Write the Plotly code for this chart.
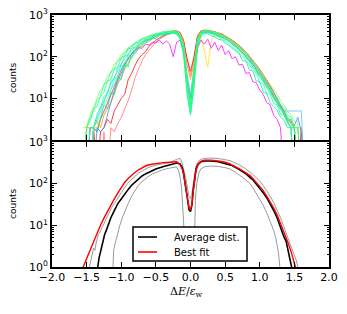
import plotly.graph_objects as go

# ---------------- top panel: individual runs (log10 of counts) -------------
x_grid = [-1.55, -1.50, -1.45, -1.40, -1.35,
          -1.30, -1.25, -1.20, -1.15, -1.10,
          -1.05, -1.00, -0.95, -0.90, -0.85,
          -0.80, -0.75, -0.70, -0.65, -0.60,
          -0.55, -0.50, -0.45, -0.40, -0.35,
          -0.30, -0.25, -0.20, -0.15, -0.10,
          -0.05, 0.00, 0.05, 0.10, 0.15,
          0.20, 0.25, 0.30, 0.35, 0.40,
          0.45, 0.50, 0.55, 0.60, 0.65,
          0.70, 0.75, 0.80, 0.85, 0.90,
          0.95, 1.00, 1.05, 1.10, 1.15,
          1.20, 1.25, 1.30, 1.35, 1.40,
          1.45, 1.50, 1.55, 1.60, 1.65]

run_red = [-1, -1, 0.3, 0.3, -1,
           0.2, 0.3, 0.5, 0.4, 0.7,
           0.85, 1.0, 1.1, 1.45, 1.6,
           1.8, 1.95, 2.05, 2.12, 2.25,
           2.32, 2.4, 2.45, 2.5, 2.55,
           2.58, 2.62, 2.62, 2.58, 2.4,
           1.95, 1.65, 2.0, 2.5, 2.62,
           2.64, 2.63, 2.62, 2.6, 2.57,
           2.55, 2.5, 2.46, 2.4, 2.34,
           2.28, 2.2, 2.12, 2.02, 1.92,
           1.82, 1.7, 1.57, 1.45, 1.3,
           1.15, 1.0, 0.85, 0.7, 0.5,
           0.4, 0.3, -1, 0.3, -1]

run_pink = [-1, -1, -1, 0.3, -1,
            -1, 0.2, -1, 0.3, 0.2,
            0.4, 0.55, 0.75, 0.95, 1.2,
            1.5, 1.7, 1.9, 2.05, 2.15,
            2.25, 2.35, 2.42, 2.48, 2.52,
            2.55, 2.58, 2.57, 2.52, 2.35,
            1.9, 1.55, 1.95, 2.45, 2.58,
            2.6, 2.6, 2.58, 2.56, 2.53,
            2.5, 2.46, 2.42, 2.36, 2.3,
            2.24, 2.16, 2.08, 1.98, 1.88,
            1.78, 1.66, 1.53, 1.4, 1.25,
            1.1, 0.95, 0.8, 0.62, 0.45,
            0.3, -1, -1, -1, -1]

run_orange = [-1, 0.3, 0.3, 0.3, 0.45,
              0.3, 0.6, 0.75, 0.9, 1.1,
              1.35, 1.5, 1.7, 1.85, 2.0,
              2.1, 2.2, 2.28, 2.35, 2.4,
              2.45, 2.5, 2.53, 2.56, 2.58,
              2.6, 2.61, 2.6, 2.55, 2.35,
              1.8, 1.45, 1.85, 2.45, 2.6,
              2.62, 2.62, 2.6, 2.58, 2.55,
              2.52, 2.48, 2.43, 2.37, 2.31,
              2.24, 2.16, 2.07, 1.97, 1.87,
              1.76, 1.64, 1.5, 1.37, 1.22,
              1.08, 0.92, 0.78, 0.62, 0.45,
              0.5, 0.3, 0.3, -1, -1]

run_yellow = [-1, 0.3, 0.3, 0.3, 0.3,
              0.55, 0.6, 0.85, 1.05, 1.2,
              1.45, 1.6, 1.78, 1.92, 2.05,
              2.15, 2.22, 2.3, 2.36, 2.42,
              2.46, 2.5, 2.52, 2.55, 2.56,
              2.58, 2.58, 2.57, 2.5, 2.2,
              1.4, 0.9, 1.6, 2.35, 2.5,
              2.1, 1.75, 2.4, 2.54, 2.52,
              2.48, 2.45, 2.4, 2.35, 2.28,
              2.22, 2.14, 2.06, 1.95, 1.86,
              1.74, 1.62, 1.5, 1.36, 1.24,
              1.1, 0.95, 0.82, 0.65, 0.5,
              0.45, 0.3, 0.3, 0.3, -1]

run_magenta = [-1, -1, -1, 0.3, 0.2,
               0.5, 0.7, 0.9, 1.1, 1.3,
               1.5, 1.68, 1.85, 1.95, 2.08,
               2.15, 2.22, 2.2, 2.3, 2.28,
               2.35, 2.33, 2.4, 2.3, 2.38,
               2.3, 2.0, 2.35, 2.4, 2.15,
               1.5, 1.0, 1.55, 2.2, 2.4,
               2.3, 2.42, 2.2, 2.35, 2.15,
               2.28, 2.05, 2.15, 1.95, 2.0,
               1.8, 1.82, 1.6, 1.62, 1.4,
               1.38, 1.2, 1.1, 0.9, 0.85,
               0.6, 0.5, 0.3, -1, -1,
               -1, -1, -1, -1, -1]

run_blue = [-1, -1, -1, -1, 0.3,
            0.2, 0.3, 0.6, 0.9, 1.2,
            1.4, 1.62, 1.8, 1.95, 2.08,
            2.18, 2.25, 2.33, 2.38, 2.42,
            2.46, 2.5, 2.52, 2.54, 2.56,
            2.57, 2.58, 2.56, 2.48, 2.2,
            1.5, 1.0, 1.6, 2.35, 2.55,
            2.58, 2.58, 2.56, 2.54, 2.5,
            2.47, 2.43, 2.38, 2.32, 2.25,
            2.18, 2.1, 2.02, 1.92, 1.82,
            1.7, 1.58, 1.45, 1.32, 1.2,
            1.05, 0.92, 0.8, 0.68, 0.55,
            0.45, 0.35, 0.55, 0.2, -1]

run_cyan = [-1, -1, 0.3, 0.3, 0.5,
            0.7, 0.95, 1.15, 1.35, 1.5,
            1.68, 1.82, 1.96, 2.06, 2.15,
            2.22, 2.3, 2.36, 2.4, 2.45,
            2.48, 2.52, 2.54, 2.56, 2.57,
            2.58, 2.59, 2.57, 2.5, 2.25,
            1.6, 1.1, 1.7, 2.4, 2.57,
            2.6, 2.6, 2.58, 2.55, 2.52,
            2.48, 2.44, 2.4, 2.34, 2.27,
            2.2, 2.12, 2.04, 1.95, 1.84,
            1.73, 1.6, 1.48, 1.35, 1.22,
            1.08, 0.95, 0.82, 0.7, 0.7,
            0.7, 0.7, 0.7, 0.7, -1]

run_green_a = [-1, 0.3, 0.55, 0.7, 0.95,
               1.05, 1.35, 1.4, 1.65, 1.7,
               1.92, 1.95, 2.12, 2.15, 2.28,
               2.3, 2.4, 2.4, 2.48, 2.47,
               2.54, 2.53, 2.58, 2.57, 2.61,
               2.6, 2.63, 2.6, 2.52, 2.25,
               1.3, 0.65, 1.4, 2.3, 2.6,
               2.62, 2.64, 2.6, 2.6, 2.55,
               2.53, 2.47, 2.45, 2.37, 2.33,
               2.23, 2.18, 2.07, 2.0, 1.87,
               1.78, 1.62, 1.52, 1.36, 1.28,
               1.1, 1.02, 0.85, 0.78, 0.6,
               0.55, 0.3, 0.3, -1, -1]

run_green_b = [-1, -1, -1, 0.3, 0.2,
               0.5, 0.85, 0.75, 1.15, 1.1,
               1.5, 1.45, 1.85, 1.75, 2.08,
               2.08, 2.2, 2.25, 2.33, 2.36,
               2.43, 2.44, 2.5, 2.5, 2.55,
               2.54, 2.57, 2.53, 2.42, 2.05,
               1.1, 0.62, 1.25, 2.2, 2.5,
               2.56, 2.55, 2.5, 2.48, 2.42,
               2.4, 2.33, 2.28, 2.2, 2.14,
               2.08, 1.9, 1.9, 1.68, 1.66,
               1.42, 1.4, 1.15, 1.12, 0.9,
               0.82, 0.72, 0.55, 0.48, 0.3,
               0.3, -1, -1, -1, -1]

run_green_c = [-1, 0.3, 0.45, 0.75, 0.8,
               1.05, 1.15, 1.42, 1.45, 1.7,
               1.75, 1.98, 2.02, 2.2, 2.2,
               2.33, 2.33, 2.44, 2.42, 2.5,
               2.5, 2.56, 2.54, 2.6, 2.57,
               2.61, 2.58, 2.6, 2.48, 2.15,
               1.35, 0.8, 1.55, 2.38, 2.58,
               2.6, 2.61, 2.57, 2.57, 2.5,
               2.5, 2.42, 2.4, 2.3, 2.27,
               2.15, 2.1, 1.97, 1.9, 1.75,
               1.66, 1.5, 1.42, 1.25, 1.15,
               1.0, 0.9, 0.72, 0.66, 0.45,
               0.3, 0.3, -1, -1, -1]

run_green_d = [-1, -1, -1, 0.3, 0.45,
               0.6, 0.85, 0.98, 1.22, 1.35,
               1.55, 1.7, 1.88, 1.98, 2.1,
               2.18, 2.25, 2.33, 2.36, 2.44,
               2.45, 2.52, 2.51, 2.57, 2.55,
               2.59, 2.57, 2.57, 2.48, 2.2,
               1.45, 0.85, 1.6, 2.4, 2.57,
               2.61, 2.59, 2.59, 2.54, 2.53,
               2.46, 2.45, 2.37, 2.34, 2.24,
               2.2, 2.07, 2.02, 1.88, 1.8,
               1.64, 1.57, 1.4, 1.32, 1.12,
               1.05, 0.85, 0.8, 0.6, 0.55,
               0.4, 0.2, -1, -1, -1]

run_green_e = [-1, -1, -1, 0.3, 0.6,
               0.78, 1.05, 1.12, 1.42, 1.48,
               1.75, 1.83, 2.02, 2.06, 2.2,
               2.23, 2.34, 2.35, 2.44, 2.44,
               2.51, 2.5, 2.56, 2.55, 2.59,
               2.58, 2.59, 2.57, 2.5, 2.18,
               1.4, 0.7, 1.45, 2.33, 2.56,
               2.59, 2.6, 2.56, 2.55, 2.5,
               2.47, 2.42, 2.38, 2.31, 2.25,
               2.16, 2.09, 1.98, 1.9, 1.77,
               1.67, 1.53, 1.44, 1.27, 1.2,
               1.0, 0.93, 0.75, 0.68, 0.48,
               0.5, 0.3, -1, -1, -1]

run_green_f = [0.3, 0.3, 0.6, 0.82, 1.0,
               1.2, 1.3, 1.55, 1.6, 1.82,
               1.88, 2.05, 2.1, 2.22, 2.25,
               2.35, 2.35, 2.44, 2.45, 2.5,
               2.52, 2.55, 2.56, 2.6, 2.6,
               2.62, 2.61, 2.6, 2.54, 2.3,
               1.5, 0.9, 1.7, 2.42, 2.6,
               2.63, 2.62, 2.62, 2.58, 2.57,
               2.52, 2.5, 2.44, 2.4, 2.32,
               2.27, 2.18, 2.12, 2.0, 1.92,
               1.8, 1.68, 1.58, 1.45, 1.35,
               1.2, 1.1, 0.95, 0.85, 0.7,
               0.6, 0.45, 0.45, -1, -1]

run_green_g = [-1, -1, 0.3, 0.3, 0.6,
               0.8, 0.9, 1.15, 1.2, 1.45,
               1.55, 1.8, 1.7, 2.05, 1.95,
               2.16, 2.28, 2.3, 2.4, 2.4,
               2.48, 2.48, 2.54, 2.53, 2.57,
               2.56, 2.58, 2.55, 2.45, 2.1,
               1.2, 0.6, 1.35, 2.28, 2.54,
               2.58, 2.58, 2.55, 2.5, 2.48,
               2.42, 2.38, 2.32, 2.25, 2.18,
               2.1, 2.0, 1.92, 1.8, 1.7,
               1.6, 1.38, 1.36, 1.12, 1.1,
               0.88, 0.85, 0.62, 0.6, 0.4,
               0.3, -1, -1, -1, -1]

# ---------------- bottom panel (log10 of counts) ----------------
fit_x = [-1.60, -1.55, -1.50, -1.45, -1.40, -1.35, -1.30, -1.25, -1.20, -1.15, -1.10,
         -1.05, -1.00, -0.95, -0.90, -0.85, -0.80, -0.75, -0.70, -0.65, -0.60,
         -0.50, -0.40, -0.30, -0.20,
         -0.15, -0.12, -0.10, -0.08, -0.06, -0.04, -0.02, 0.00, 0.02, 0.04, 0.06, 0.08, 0.11, 0.15, 0.20,
         0.30, 0.40, 0.50, 0.57, 0.65, 0.70, 0.75, 0.80, 0.86, 0.90, 0.95,
         1.00, 1.05, 1.10, 1.15, 1.20, 1.25, 1.30, 1.35, 1.40, 1.45, 1.50, 1.55]
fit_log = [-0.2, 0.0, 0.21, 0.42, 0.62, 0.82, 1.00, 1.17, 1.33, 1.49, 1.63,
           1.77, 1.90, 2.03, 2.12, 2.20, 2.27, 2.33, 2.38, 2.42, 2.45,
           2.48, 2.50, 2.51, 2.52,
           2.45, 2.35, 2.22, 2.02, 1.82, 1.60, 1.42, 1.37, 1.50, 1.82, 2.12, 2.32, 2.46, 2.53, 2.56,
           2.56, 2.54, 2.51, 2.47, 2.41, 2.36, 2.31, 2.26, 2.19, 2.12, 2.03,
           1.93, 1.83, 1.70, 1.57, 1.42, 1.25, 1.05, 0.84, 0.62, 0.38, 0.10, -0.2]

avg_x = [-1.36, -1.34, -1.32, -1.30, -1.28, -1.26, -1.24, -1.22, -1.19,
         -1.15, -1.10, -1.05, -1.00, -0.95, -0.90, -0.85, -0.80, -0.75, -0.70, -0.65, -0.60, -0.55, -0.50,
         -0.40, -0.30, -0.20,
         -0.15, -0.12, -0.10, -0.08, -0.06, -0.04, -0.02, 0.00, 0.02, 0.04, 0.06, 0.08, 0.11, 0.15, 0.20,
         0.30, 0.40, 0.50, 0.60, 0.70, 0.80, 0.90,
         1.00, 1.05, 1.10, 1.15, 1.20, 1.25,
         1.29, 1.32, 1.35, 1.38, 1.40, 1.42, 1.44, 1.46, 1.47]
avg_log = [-0.5, 0.0, 0.22, 0.36, 0.52, 0.6, 0.78, 0.86, 1.0,
           1.18, 1.35, 1.52, 1.63, 1.76, 1.86, 1.96, 2.04, 2.12, 2.18, 2.23, 2.27, 2.31, 2.35,
           2.40, 2.45, 2.49,
           2.47, 2.38, 2.25, 2.05, 1.80, 1.55, 1.37, 1.33, 1.48, 1.85, 2.15, 2.35, 2.46, 2.52, 2.54,
           2.54, 2.52, 2.48, 2.43, 2.34, 2.23, 2.09,
           1.90, 1.78, 1.66, 1.52, 1.36, 1.18,
           0.98, 0.88, 0.72, 0.62, 0.45, 0.35, 0.2, 0.0, -0.5]

upper_x = [-1.48, -1.46, -1.42, -1.40, -1.38, -1.36, -1.33, -1.30, -1.28, -1.26,
           -1.22, -1.18, -1.14, -1.10, -1.05, -1.00, -0.95, -0.91,
           -0.85, -0.80, -0.75, -0.70, -0.65, -0.60,
           -0.50, -0.40, -0.30, -0.20,
           -0.15, -0.12, -0.10, -0.07, -0.04, -0.02, 0.00, 0.02, 0.04, 0.06, 0.08, 0.11, 0.15, 0.20,
           0.30, 0.40, 0.50, 0.57, 0.70, 0.80, 0.90,
           1.00, 1.05, 1.10, 1.15, 1.20, 1.25, 1.30, 1.34, 1.38, 1.42, 1.46, 1.50, 1.53, 1.55, 1.56]
upper_log = [-0.5, 0.0, 0.3, 0.45, 0.4, 0.6, 0.78, 0.85, 0.95, 1.0,
             1.15, 1.3, 1.42, 1.52, 1.66, 1.78, 1.90, 2.0,
             2.1, 2.18, 2.25, 2.30, 2.35, 2.39,
             2.44, 2.47, 2.50, 2.58,
             2.60, 2.48, 2.35, 2.15, 1.85, 1.68, 1.64, 1.75, 2.0, 2.25, 2.42, 2.52, 2.58, 2.60,
             2.61, 2.60, 2.57, 2.55, 2.45, 2.35, 2.22,
             2.06, 1.95, 1.83, 1.70, 1.55, 1.38, 1.18, 1.00, 0.80, 0.62, 0.45, 0.28, 0.15, 0.0, -0.5]

lower_x = [-1.13, -1.12, -1.11, -1.09, -1.07, -1.05, -1.02, -0.98, -0.94, -0.90,
           -0.85, -0.80, -0.75, -0.73, -0.65, -0.60, -0.55, -0.50, -0.45, -0.40,
           -0.30, -0.20, -0.17, -0.15, -0.13, -0.11, -0.10, -0.09, -0.05, 0.00,
           0.04, 0.06, 0.065, 0.07, 0.09, 0.12, 0.15, 0.20, 0.30, 0.40,
           0.50, 0.57, 0.65, 0.70, 0.75, 0.80, 0.86, 0.90, 0.95, 1.00,
           1.05, 1.10, 1.15, 1.20, 1.23, 1.25, 1.27, 1.29, 1.30]
lower_log = [-0.5, 0.0, 0.4, 0.55, 0.7, 0.85, 1.0, 1.2, 1.38, 1.52,
             1.7, 1.84, 1.96, 2.0, 2.12, 2.18, 2.23, 2.27, 2.30, 2.33,
             2.37, 2.40, 2.30, 2.15, 1.9, 1.5, 1.1, 0.7, 0.3, 0.2,
             0.3, 0.8, 1.2, 1.6, 2.0, 2.25, 2.35, 2.40, 2.42, 2.41,
             2.38, 2.35, 2.27, 2.22, 2.15, 2.08, 2.0, 1.90, 1.76, 1.62,
             1.48, 1.30, 1.10, 0.88, 0.70, 0.55, 0.35, 0.0, -0.5]

# tick labels and legend labels
x_tick_vals = [-2.0, -1.5, -1.0, -0.5, 0.0, 0.5, 1.0, 1.5, 2.0]
x_tick_text = ["\u22122.0", "\u22121.5", "\u22121.0", "\u22120.5", "0.0", "0.5", "1.0", "1.5", "2.0"]
y_tick_vals = [1, 10, 100, 1000]
y_tick_text_top = ["", "10<sup>1</sup>", "10<sup>2</sup>", "10<sup>3</sup>"]
y_tick_text_bottom = ["10<sup>0</sup>", "10<sup>1</sup>", "10<sup>2</sup>", "10<sup>3</sup>"]
y_minor_vals = [2, 3, 4, 5, 6, 7, 8, 9, 20, 30, 40, 50, 60, 70, 80, 90,
                200, 300, 400, 500, 600, 700, 800, 900]
legend_labels = ["Average dist.", "Best fit"]
legend_colors = ["black", "#ff0000"]


def counts(logs):
    return [10 ** v for v in logs]


fig = go.Figure()

top_runs = [
    (run_pink, "#ff6a6a"),
    (run_red, "#ff0000"),
    (run_orange, "#ff8c00"),
    (run_yellow, "#ffe000"),
    (run_magenta, "#ff00ff"),
    (run_blue, "#3a7dff"),
    (run_cyan, "#55bbff"),
    (run_green_b, "#00ee88"),
    (run_green_g, "#10ffb0"),
    (run_green_e, "#22ff99"),
    (run_green_d, "#40ffa0"),
    (run_green_f, "#66ff66"),
    (run_green_c, "#00ff80"),
    (run_green_a, "#33ff77"),
]
for vals, col in top_runs:
    fig.add_trace(go.Scatter(x=x_grid, y=counts(vals), mode="lines",
                             line=dict(color=col, width=1), opacity=0.75,
                             showlegend=False, hoverinfo="skip",
                             xaxis="x", yaxis="y"))

fig.add_trace(go.Scatter(x=upper_x, y=counts(upper_log), mode="lines",
                         line=dict(color="#9a9a9a", width=1), showlegend=False,
                         xaxis="x2", yaxis="y2"))
fig.add_trace(go.Scatter(x=lower_x, y=counts(lower_log), mode="lines",
                         line=dict(color="#9a9a9a", width=1), showlegend=False,
                         xaxis="x2", yaxis="y2"))
fig.add_trace(go.Scatter(x=avg_x, y=counts(avg_log), mode="lines", name=legend_labels[0],
                         line=dict(color=legend_colors[0], width=1.6), showlegend=False,
                         xaxis="x2", yaxis="y2"))
fig.add_trace(go.Scatter(x=fit_x, y=counts(fit_log), mode="lines", name=legend_labels[1],
                         line=dict(color=legend_colors[1], width=1.4), showlegend=False,
                         xaxis="x2", yaxis="y2"))

font_main = dict(family="DejaVu Sans", size=11, color="black")

xcommon = dict(range=[-2, 2], showline=True, linecolor="black", linewidth=1.6,
               mirror="ticks", ticks="inside", ticklen=5, tickwidth=1, tickcolor="black",
               tickvals=x_tick_vals, ticktext=x_tick_text, showgrid=False, zeroline=False,
               tickfont=font_main)
ycommon = dict(type="log", range=[0, 3], showline=True, linecolor="black", linewidth=1.6,
               mirror="ticks", ticks="inside", ticklen=5, tickwidth=1, tickcolor="black",
               tickvals=y_tick_vals, showgrid=False, zeroline=False, tickfont=font_main,
               minor=dict(tickvals=y_minor_vals, ticks="inside", ticklen=2.5,
                          tickcolor="black", tickwidth=1, showgrid=False))

gap = 1.6 / 252

# legend box drawn in paper coordinates (box of the reference legend)
leg_x0, leg_x1, leg_y0, leg_y1 = 0.2924, 0.704, 0.0238, 0.1587
leg_line_x0, leg_line_x1, leg_text_x = 0.3105, 0.379, 0.433
leg_row_y = [0.119, 0.0595]

shapes = [dict(type="rect", xref="paper", yref="paper", x0=leg_x0, x1=leg_x1,
               y0=leg_y0, y1=leg_y1, fillcolor="white",
               line=dict(color="black", width=1.5), layer="above")]
annotations = []
for lab, col, yy in zip(legend_labels, legend_colors, leg_row_y):
    shapes.append(dict(type="line", xref="paper", yref="paper", x0=leg_line_x0, x1=leg_line_x1,
                       y0=yy, y1=yy, line=dict(color=col, width=1.6), layer="above"))
    annotations.append(dict(text=lab, xref="paper", yref="paper", x=leg_text_x, y=yy,
                            xanchor="left", yanchor="middle", showarrow=False,
                            font=dict(family="DejaVu Sans", size=10, color="black")))

annotations += [
    dict(text="counts", xref="paper", yref="paper", x=-0.141, y=0.75,
         textangle=-90, showarrow=False, xanchor="center", yanchor="middle",
         font=dict(family="DejaVu Sans", size=9, color="black")),
    dict(text="counts", xref="paper", yref="paper", x=-0.141, y=0.25,
         textangle=-90, showarrow=False, xanchor="center", yanchor="middle",
         font=dict(family="DejaVu Sans", size=9, color="black")),
    dict(text="\u0394<i>E</i>/<i>\u03b5</i><sub>w</sub>", xref="paper", yref="paper",
         x=0.485, y=-0.098, showarrow=False, xanchor="center", yanchor="middle",
         font=dict(family="DejaVu Serif", size=11, color="black")),
]

fig.update_layout(
    width=347, height=314,
    margin=dict(l=52, r=18, t=15, b=47, autoexpand=False),
    paper_bgcolor="white", plot_bgcolor="white",
    font=font_main,
    showlegend=False,
    xaxis=dict(**xcommon, anchor="y", showticklabels=False),
    xaxis2=dict(**xcommon, anchor="y2", showticklabels=True, ticklabelstandoff=-1),
    yaxis=dict(**ycommon, domain=[0.5 + gap / 2, 1], anchor="x", ticktext=y_tick_text_top),
    yaxis2=dict(**ycommon, domain=[0, 0.5 - gap / 2], anchor="x2", ticktext=y_tick_text_bottom),
    shapes=shapes,
    annotations=annotations,
)

fig.write_html("out.html", config={"displayModeBar": False},
               post_script="document.body.style.margin='0';document.body.style.overflow='hidden';")
